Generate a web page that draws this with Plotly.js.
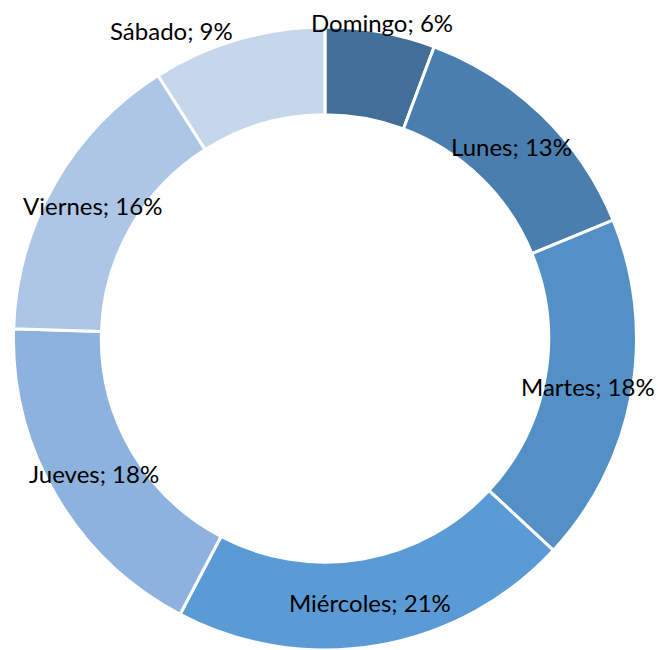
<!DOCTYPE html>
<html>
<head>
<meta charset="utf-8">
<script src="https://cdn.plot.ly/plotly-3.0.1.min.js"></script>
<style>html,body{margin:0;padding:0;background:#fff}#chart{width:658px;height:650px}</style>
</head>
<body>
<div id="chart"></div>
<script>
const dias = ["Domingo", "Lunes", "Martes", "Miércoles", "Jueves", "Viernes", "Sábado"];
const valores = [5.7, 13.1, 18.1, 20.8, 17.8, 15.5, 9.0];
const colores = ["#416F98", "#4A7EAE", "#5390C6", "#5B9BD5", "#8CB2DD", "#ADC6E5", "#C6D7EC"];
const fuera = ["Domingo", "Sábado"];

const W = 658, H = 650;
const domX = [0.0182, 0.9696], domY = [0, 0.9585];
const HOLE = 0.718;

const trace = {
  type: "pie",
  labels: dias,
  values: valores,
  sort: false,
  direction: "clockwise",
  rotation: 0,
  hole: HOLE,
  marker: { colors: colores, line: { color: "#FFFFFF", width: 3 } },
  textinfo: "none",
  automargin: false,
  domain: { x: domX, y: domY },
  showlegend: false,
  hoverinfo: "label+percent"
};

// label placement derived from the slice values
const total = valores.reduce((a, b) => a + b, 0);
const radPx = Math.min((domX[1] - domX[0]) * W, (domY[1] - domY[0]) * H) / 2;
const cxPx = (domX[0] + domX[1]) / 2 * W;
const cyPx = (domY[0] + domY[1]) / 2 * H;
let acc = 0;
const annotations = dias.map((d, i) => {
  const mid = acc + valores[i] / 2;
  acc += valores[i];
  const th = 2 * Math.PI * mid / total;
  const out = fuera.includes(d);
  const r = out ? radPx * 1.03 : radPx * (1 + HOLE) / 2;
  const x = (cxPx + r * Math.sin(th)) / W;
  const y = (cyPx + r * Math.cos(th)) / H;
  let xanchor = "center";
  if (out && Math.sin(th) < -0.1) xanchor = "right";
  return {
    xref: "paper", yref: "paper", x: x, y: y,
    xanchor: xanchor, yanchor: "middle",
    text: d + "; " + Math.round(valores[i] / total * 100) + "%",
    showarrow: false,
    font: { family: "Lato, 'Open Sans', sans-serif", size: 24, color: "#000000" }
  };
});

const layout = {
  width: W,
  height: H,
  margin: { l: 0, r: 0, t: 0, b: 0 },
  paper_bgcolor: "#FFFFFF",
  showlegend: false,
  annotations: annotations
};

Plotly.newPlot("chart", [trace], layout, { displayModeBar: false, staticPlot: true });
</script>
</body>
</html>
